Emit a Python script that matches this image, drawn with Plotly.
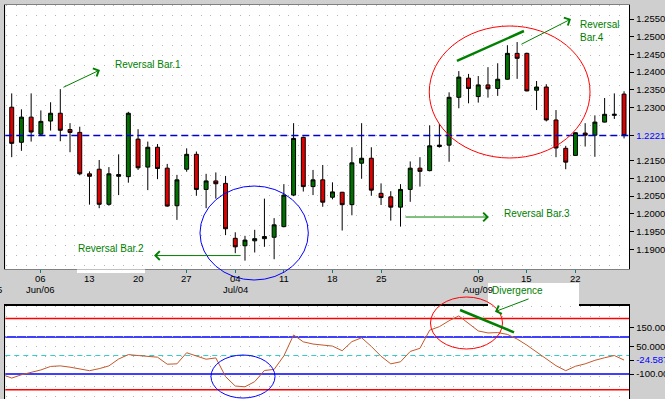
import plotly.graph_objects as go

# ---------------- data ----------------
opens = [1.2301, 1.2202, 1.2273, 1.2225, 1.2262, 1.2284, 1.2238, 1.2230, 1.2113, 1.2126,
         1.2027, 1.2111, 1.2105, 1.2211, 1.2132, 1.2188, 1.2129, 1.2023, 1.2126, 1.2168,
         1.2069, 1.2093, 1.2086, 1.1931, 1.1910, 1.1924, 1.1930, 1.1934, 1.1964, 1.2053,
         1.2216, 1.2077, 1.2096, 1.2047, 1.2061, 1.2026, 1.2143, 1.2157, 1.2058, 1.2048,
         1.2019, 1.2069, 1.2129, 1.2122, 1.2190, 1.2194, 1.2329, 1.2383, 1.2331, 1.2364,
         1.2354, 1.2380, 1.2453, 1.2453, 1.2349, 1.2358, 1.2265, 1.2185, 1.2165, 1.2228,
         1.2222, 1.2259, 1.2278, 1.2338]
highs = [1.2340, 1.2295, 1.2340, 1.2292, 1.2315, 1.2352, 1.2256, 1.2246, 1.2120, 1.2152,
         1.2132, 1.2168, 1.2288, 1.2239, 1.2204, 1.2197, 1.2141, 1.2110, 1.2185, 1.2176,
         1.2113, 1.2117, 1.2107, 1.1948, 1.1938, 1.1955, 1.2043, 1.1988, 1.2084, 1.2256,
         1.2218, 1.2124, 1.2138, 1.2089, 1.2062, 1.2188, 1.2256, 1.2188, 1.2086, 1.2064,
         1.2084, 1.2148, 1.2160, 1.2250, 1.2254, 1.2343, 1.2403, 1.2395, 1.2389, 1.2414,
         1.2425, 1.2476, 1.2485, 1.2455, 1.2375, 1.2366, 1.2293, 1.2192, 1.2230, 1.2256,
         1.2278, 1.2327, 1.2340, 1.2346]
lows = [1.2160, 1.2178, 1.2204, 1.2222, 1.2235, 1.2205, 1.2174, 1.2109, 1.2026, 1.2016,
        1.2023, 1.2053, 1.2088, 1.2124, 1.2067, 1.2098, 1.2020, 1.1983, 1.2119, 1.2051,
        1.2016, 1.2043, 1.1940, 1.1889, 1.1868, 1.1891, 1.1907, 1.1872, 1.1962, 1.2050,
        1.2063, 1.2053, 1.2020, 1.2041, 1.1953, 1.1996, 1.2099, 1.2051, 1.2025, 1.1981,
        1.1964, 1.2034, 1.2077, 1.2120, 1.2187, 1.2147, 1.2298, 1.2312, 1.2314, 1.2328,
        1.2333, 1.2379, 1.2381, 1.2346, 1.2293, 1.2261, 1.2160, 1.2126, 1.2164, 1.2190,
        1.2161, 1.2258, 1.2268, 1.2213]
closes = [1.2199, 1.2273, 1.2231, 1.2261, 1.2284, 1.2236, 1.2230, 1.2113, 1.2106, 1.2027,
          1.2113, 1.2106, 1.2284, 1.2130, 1.2188, 1.2128, 1.2022, 1.2096, 1.2168, 1.2069,
          1.2093, 1.2085, 1.1958, 1.1907, 1.1926, 1.1930, 1.1936, 1.1969, 1.2053, 1.2213,
          1.2077, 1.2096, 1.2033, 1.2062, 1.2026, 1.2144, 1.2157, 1.2067, 1.2046, 1.2019,
          1.2069, 1.2129, 1.2120, 1.2192, 1.2194, 1.2329, 1.2386, 1.2354, 1.2364, 1.2353,
          1.2380, 1.2453, 1.2439, 1.2347, 1.2358, 1.2265, 1.2186, 1.2146, 1.2229, 1.2222,
          1.2259, 1.2281, 1.2281, 1.2221]
bar = list(range(len(opens)))

# CCI indicator (first value belongs to the bar just left of the window)
cci = [-102, -122, -104, -92, -78, -59, -56, -63, -73, -82,
       -71, -56, -19, 5, 0, -4, -9, -47, -45, 15,
       -2, -20, -13, -114, -165, -169, -141, -81, -75, -2,
       111, 74, 62, 56, 51, 26, 75, 96, 49, -4,
       -45, -34, 22, 39, 137, 156, 188, 214, 172, 133,
       122, 124, 114, 89, 56, 20, -14, -55, -82, -58,
       -45, -26, -12, 0, -24.587]
cci_bar = [bar[0] - 1] + bar

day_tick_text = ["06", "13", "20", "27", "04", "11", "18", "25", "09", "15", "22"]
day_tick_bar = [3, 8, 13, 18, 23, 28, 33, 38, 48, 53, 58]
month_text = ["Jun/06", "Jul/04", "Aug/09"]
month_bar = [3, 23, 48]

price_ticks = [1.2550, 1.2500, 1.2450, 1.2400, 1.2350, 1.2300, 1.2221,
               1.2150, 1.2100, 1.2050, 1.2000, 1.1950, 1.1900]
last_price = 1.2221
cci_ticks = [150, 50, -24.587, -100]
cci_tick_text = ["150.00", "50.000", "-24.587", "-100.00"]
cci_red_levels = [200, -185]
cci_blue_levels = [100, -100]
cci_zero = 0

# ---------------- figure ----------------
W, H = 665, 399
FONT = "Liberation Sans, Arial, sans-serif"
GREEN_TXT = "#008000"


def PX(x):
    return x / W


def PY(y):
    return 1 - y / H


x_dom = [PX(5.3), PX(629.3)]
x_rng = [-0.66, 63.54]

fig = go.Figure()
fig.add_trace(go.Candlestick(
    x=bar, open=opens, high=highs, low=lows, close=closes,
    increasing=dict(fillcolor="#007000", line=dict(color="black", width=1)),
    decreasing=dict(fillcolor="#dd0000", line=dict(color="black", width=1)),
    whiskerwidth=0, showlegend=False, hoverinfo="skip",
    xaxis="x", yaxis="y"))
fig.add_trace(go.Scatter(
    x=cci_bar, y=cci, mode="lines", line=dict(color="#c2582c", width=1),
    showlegend=False, hoverinfo="skip", xaxis="x2", yaxis="y2"))

price_text = []
for p in price_ticks:
    s = f"{p:.4f}"
    if p == last_price:
        s = f'<span style="color:#0000ff">{s}</span>'
    price_text.append(s)
cci_text = [f'<span style="color:#0000ff">{t}</span>' if v == cci[-1] else t
            for v, t in zip(cci_ticks, cci_tick_text)]

minor_grid = dict(showgrid=True, tick0=0.5, dtick=1, gridcolor="#b4b4b4",
                  griddash="1px,9px", gridwidth=1, ticks="")

fig.update_layout(
    width=W, height=H,
    margin=dict(l=0, r=0, t=0, b=0),
    paper_bgcolor="#cfcfcf", plot_bgcolor="white",
    font=dict(family=FONT, size=10, color="black"),
    boxgap=0.42,
    showlegend=False,
    xaxis=dict(domain=x_dom, range=x_rng, anchor="y", rangeslider=dict(visible=False),
               tickmode="array", tickvals=day_tick_bar, showticklabels=False,
               ticks="outside", ticklen=3, tickcolor="#008080",
               showgrid=False, minor=minor_grid,
               showline=True, linecolor="#808080", mirror=True, zeroline=False,
               automargin=False),
    yaxis=dict(domain=[PY(269), PY(5)], range=[1.18444, 1.25895], anchor="x",
               side="right", tickmode="array", tickvals=price_ticks, ticktext=price_text,
               ticks="outside", ticklen=4, tickcolor="black", tickfont=dict(size=9.5),
               showgrid=False, zeroline=False, showline=True, linecolor="black",
               mirror=True, automargin=False),
    xaxis2=dict(domain=x_dom, range=x_rng, anchor="y2", showticklabels=False,
                ticks="", showgrid=False, minor=minor_grid, showline=True,
                linecolor="black", linewidth=1.5, mirror=True, zeroline=False,
                automargin=False),
    yaxis2=dict(domain=[0, PY(306)], range=[-235, 267.6], anchor="x2", side="right",
                tickmode="array", tickvals=cci_ticks, ticktext=cci_text,
                ticks="outside", ticklen=4, tickcolor="black", tickfont=dict(size=9.5),
                showgrid=False, zeroline=False, showline=True, linecolor="black",
                mirror=True, automargin=False),
)

shapes = []
# last price dashed line
shapes.append(dict(type="line", xref="x domain", x0=0, x1=1, yref="y",
                   y0=last_price, y1=last_price,
                   line=dict(color="#0000cc", width=1.5, dash="7px,4px"), layer="above"))
# CCI level lines
for lv in cci_red_levels:
    shapes.append(dict(type="line", xref="x2 domain", x0=0, x1=1, yref="y2", y0=lv, y1=lv,
                       line=dict(color="#ff0000", width=1.5), layer="below"))
for lv in cci_blue_levels:
    shapes.append(dict(type="line", xref="x2 domain", x0=0, x1=1, yref="y2", y0=lv, y1=lv,
                       line=dict(color="#0000ff", width=1.5), layer="below"))
shapes.append(dict(type="line", xref="x2 domain", x0=0, x1=1, yref="y2",
                   y0=cci_zero, y1=cci_zero,
                   line=dict(color="#33cccc", width=1, dash="5px,4px"), layer="below"))
# white boxes in the date band
shapes.append(dict(type="rect", xref="paper", yref="paper", x0=PX(488), x1=PX(579),
                   y0=PY(306), y1=PY(283), fillcolor="white", line=dict(width=0)))
shapes.append(dict(type="rect", xref="paper", yref="paper", x0=PX(77), x1=PX(145),
                   y0=PY(273), y1=PY(269.5), fillcolor="white", line=dict(width=0)))
# circles
shapes.append(dict(type="circle", xref="x", yref="y", x0=42.96, x1=59.5,
                   y0=1.21577, y1=1.25302, line=dict(color="#ff0000", width=1)))
shapes.append(dict(type="circle", xref="paper", yref="paper", x0=PX(200), x1=PX(308.3),
                   y0=PY(280), y1=PY(186), line=dict(color="#0000ff", width=1)))
shapes.append(dict(type="circle", xref="paper", yref="paper", x0=PX(430.5), x1=PX(502.5),
                   y0=PY(349), y1=PY(297), line=dict(color="#ff0000", width=1)))
shapes.append(dict(type="circle", xref="x2", yref="y2", x0=20.5, x1=27.09,
                   y0=-229.7, y1=2.7, line=dict(color="#0000ff", width=1)))
# green trend lines
shapes.append(dict(type="line", xref="x", yref="y", x0=45.81, y0=1.24315, x1=52.7,
                   y1=1.25161, line=dict(color="#008000", width=2.5)))
shapes.append(dict(type="line", xref="x2", yref="y2", x0=46.13, y0=246, x1=51.68,
                   y1=125.4, line=dict(color="#008000", width=2.5)))
fig.update_layout(shapes=shapes)

ann = []


def label(text, x, y, xref="x", yref="y", color=GREEN_TXT, anchor="left"):
    ann.append(dict(text=text, x=x, y=y, xref=xref, yref=yref, showarrow=False,
                    xanchor=anchor, yanchor="middle", align="left",
                    font=dict(color=color, size=10, family=FONT)))


def arrow(hx, hy, tx, ty, xref="x", yref="y"):
    ann.append(dict(text="", x=hx, y=hy, xref=xref, yref=yref, ax=tx, ay=ty,
                    axref=xref, ayref=yref, showarrow=True, arrowhead=4,
                    arrowsize=1.7, arrowwidth=1, arrowcolor="#008000", standoff=0))


label("Reversal Bar.1", 10.39, 1.24221)
arrow(9.08, 1.24061, 5.17, 1.23553)
label("Reversal Bar.2", 6.6, 1.19028)
arrow(14.64, 1.18823, 23.69, 1.18823)
label("Reversal Bar.3", 50.41, 1.20016)
arrow(49.1, 1.19911, 40.36, 1.19911)
label("Reversal<br>Bar.4", 58.26, 1.25167)
arrow(57.54, 1.2550, 52.29, 1.24766)
label("Divergence", PX(490), PY(290), xref="paper", yref="paper")
arrow(49.72, 236.8, 53.33, 309, xref="x2", yref="y2")

# date axis labels: day numbers and month rows
for t, b in zip(day_tick_text, day_tick_bar):
    ann.append(dict(text=t, x=b, y=PY(278), xref="x", yref="paper", showarrow=False,
                    xanchor="center", yanchor="middle",
                    font=dict(size=9.5, color="black", family=FONT)))
for t, b in zip(month_text, month_bar):
    ann.append(dict(text=t, x=b, y=PY(289.5), xref="x", yref="paper", showarrow=False,
                    xanchor="center", yanchor="middle",
                    font=dict(size=9.5, color="black", family=FONT)))
ann.append(dict(text="5", x=PX(4), y=PY(289.5), xref="paper", yref="paper",
                showarrow=False, xanchor="right", yanchor="middle",
                font=dict(size=9.5, color="black", family=FONT)))
fig.update_layout(annotations=ann)

fig.write_html("out.html", config={"displayModeBar": False},
               post_script="document.body.style.margin='0';")
